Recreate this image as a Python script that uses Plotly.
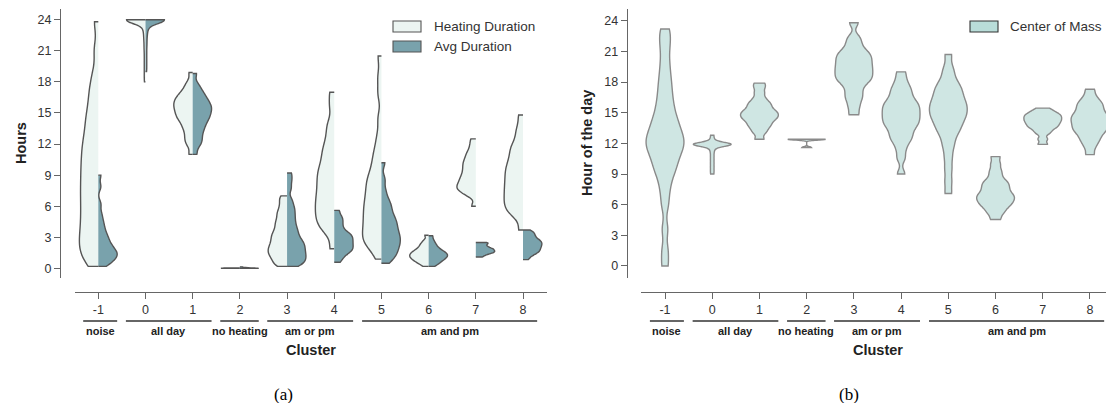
import plotly.graph_objects as go

# ---------------- data ----------------
clusters = ["-1", "0", "1", "2", "3", "4", "5", "6", "7", "8"]
group_labels = ["noise", "all day", "no heating", "am or pm", "am and pm"]

heating_duration = [
    [0.2, 0.85, 1.35, 1.85, 2.3, 2.75, 3.25, 3.75, 4.25, 4.8, 5.3, 5.85, 6.35, 6.9, 7.4, 7.9, 8.45,
     8.95, 9.5, 10.0, 10.55, 11.1, 11.65, 12.2, 12.8, 13.5, 14.2, 14.9, 15.7, 16.7, 17.6, 18.9, 21.1, 23.8],
    [18.0, 18.6, 19.2, 19.8, 20.4, 21.0, 21.5, 22.0, 22.4, 22.8, 23.1, 23.4, 23.6, 23.8, 23.9,
     24.0, 24.0, 24.0, 24.0, 24.0, 24.0, 24.0, 24.0, 24.0, 24.0, 24.0, 24.0, 24.0, 24.0, 24.0,
     24.0, 24.0, 24.0, 24.0, 24.0],
    [11.0, 11.9, 12.35, 12.75, 13.2, 13.57, 13.87, 14.18, 14.42, 14.62, 14.81, 15.01, 15.21, 15.39, 15.57,
     15.74, 15.92, 16.09, 16.26, 16.45, 16.66, 16.88, 17.16, 17.55, 18.0, 18.9],
    [0.0, 0.0, 0.0, 0.0, 0.0, 0.0, 0.0, 0.0, 0.05],
    [0.2, 0.45, 0.75, 1.0, 1.24, 1.44, 1.64, 1.84, 2.04, 2.25, 2.49, 2.73, 2.97, 3.22, 3.46, 3.76, 4.09,
     4.41, 4.74, 5.15, 5.5, 5.97, 6.5, 7.0],
    [1.9, 3.4, 3.9, 4.3, 4.65, 5.0, 5.35, 5.7, 6.04, 6.39, 6.73, 7.09, 7.47, 7.85, 8.23, 8.61, 9.0, 9.37,
     9.76, 10.23, 10.76, 11.28, 11.8, 12.5, 13.34, 14.17, 15.7, 17.0],
    [0.9, 1.9, 2.25, 2.55, 2.85, 3.15, 3.48, 3.82, 4.17, 4.51, 4.86, 5.2, 5.55, 5.9, 6.25, 6.59, 6.99,
     7.39, 7.8, 8.2, 8.6, 9.0, 9.54, 10.21, 10.88, 11.65, 12.8, 14.5, 16.85, 18.5, 20.5],
    [0.2, 0.45, 0.6, 0.73, 0.85, 0.95, 1.05, 1.14, 1.23, 1.32, 1.42, 1.51, 1.61, 1.74, 1.85, 2.03, 2.22,
     2.42, 2.7, 3.2],
    [6.0, 7.0, 7.3, 7.5, 7.68, 7.84, 8.0, 8.19, 8.4, 8.61, 8.81, 9.05, 9.31, 9.57, 9.84, 10.1, 10.36,
     10.66, 11.0, 11.36, 11.9, 12.5],
    [3.7, 5.0, 5.4, 5.72, 6.02, 6.32, 6.61, 6.91, 7.22, 7.52, 7.82, 8.13, 8.44, 8.76, 9.07, 9.39, 9.71,
     10.03, 10.39, 10.82, 11.24, 11.67, 12.09, 12.86, 13.63, 14.8],
]

avg_duration = [
    [0.2, 0.4, 0.6, 0.78, 0.93, 1.06, 1.18, 1.3, 1.42, 1.54, 1.67, 1.8, 1.95, 2.12, 2.3, 2.5, 2.73, 2.96,
     3.2, 3.5, 3.85, 4.25, 4.7, 5.3, 6.2, 7.9, 9.0],
    [19.0, 19.6, 20.2, 20.8, 21.4, 21.9, 22.4, 22.8, 23.1, 23.4, 23.6, 23.8, 23.9,
     24.0, 24.0, 24.0, 24.0, 24.0, 24.0, 24.0, 24.0, 24.0, 24.0, 24.0, 24.0, 24.0, 24.0, 24.0,
     24.0, 24.0, 24.0, 24.0],
    [11.0, 11.8, 12.2, 12.55, 12.95, 13.3, 13.6, 13.9, 14.15, 14.4, 14.6, 14.8, 15.0, 15.2, 15.4, 15.55,
     15.75, 15.95, 16.15, 16.4, 16.65, 16.95, 17.3, 17.8, 18.8],
    [0.0, 0.0, 0.0, 0.0, 0.0, 0.0, 0.0, 0.0, 0.15],
    [0.2, 0.38, 0.59, 0.77, 0.96, 1.14, 1.33, 1.51, 1.71, 1.91, 2.11, 2.3, 2.5, 2.7, 2.96, 3.27, 3.59, 3.9,
     4.3, 4.72, 5.16, 5.6, 6.05, 6.65, 7.7, 8.5, 9.2],
    [0.6, 1.0, 1.3, 1.54, 1.69, 1.85, 2.0, 2.16, 2.32, 2.48, 2.64, 2.8, 2.96, 3.12, 3.28, 3.44, 3.7, 4.04,
     4.39, 4.73, 5.07, 5.6],
    [0.5, 0.9, 1.19, 1.45, 1.7, 1.95, 2.19, 2.4, 2.62, 2.83, 3.04, 3.26, 3.48, 3.74, 4.0, 4.26, 4.52, 4.78,
     5.06, 5.46, 5.85, 6.25, 6.7, 7.5, 8.6, 10.2],
    [0.2, 0.42, 0.58, 0.72, 0.84, 0.95, 1.05, 1.14, 1.23, 1.32, 1.41, 1.5, 1.6, 1.72, 1.85, 2.02, 2.22,
     2.45, 2.75, 3.15],
    [1.1, 1.25, 1.37, 1.45, 1.52, 1.58, 1.64, 1.7, 1.76, 1.83, 1.89, 1.95, 2.04, 2.13, 2.24, 2.35, 2.46, 2.5],
    [0.85, 1.17, 1.41, 1.53, 1.65, 1.78, 1.9, 2.02, 2.14, 2.25, 2.36, 2.47, 2.58, 2.69, 2.8, 2.97, 3.14,
     3.32, 3.49, 3.7],
]

center_of_mass = [
    [0.0, 1.5, 3.6, 5.93, 7.23, 8.2, 8.99, 9.44, 9.86, 10.29, 10.71, 11.08, 11.35, 11.62, 11.89, 12.15,
     12.41, 12.67, 12.93, 13.26, 13.63, 14.0, 14.37, 14.8, 15.38, 15.95, 16.6, 17.35, 18.1, 19.0, 20.06,
     21.3, 22.3, 23.2],
    [9.0, 9.35, 9.7, 10.05, 10.4, 10.75, 11.1, 11.4, 11.6, 11.75, 11.8, 11.84, 11.87, 11.89, 11.9, 11.9,
     11.9, 11.91, 11.92, 11.94, 11.97, 12.0, 12.05, 12.2, 12.45, 12.8],
    [12.4, 13.0, 13.35, 13.63, 13.85, 14.05, 14.27, 14.42, 14.55, 14.69, 14.83, 14.96, 15.1, 15.24, 15.44,
     15.66, 15.87, 16.09, 16.45, 16.96, 17.48, 17.9],
    [11.6, 12.4, 12.4, 12.4, 12.4],
    [14.8, 15.6, 16.25, 16.7, 17.18, 17.66, 18.01, 18.23, 18.45, 18.67, 18.9, 19.12, 19.34, 19.56, 19.8,
     20.03, 20.26, 20.5, 20.73, 20.97, 21.33, 21.84, 22.4, 23.8],
    [9.0, 10.55, 11.46, 12.14, 12.49, 12.83, 13.18, 13.53, 13.77, 13.99, 14.2, 14.42, 14.64, 14.85, 15.07,
     15.28, 15.5, 15.72, 15.93, 16.15, 16.48, 16.86, 17.23, 17.6, 18.2, 19.0],
    [7.1, 8.3, 9.5, 10.6, 11.55, 12.18, 12.8, 13.2, 13.5, 13.81, 14.11, 14.38, 14.59, 14.81, 15.02, 15.24,
     15.45, 15.66, 15.87, 16.08, 16.32, 16.6, 16.88, 17.16, 17.45, 17.73, 18.14, 18.78, 19.45, 20.7],
    [4.55, 5.1, 5.42, 5.73, 5.94, 6.12, 6.3, 6.47, 6.63, 6.78, 6.94, 7.1, 7.32, 7.54, 7.76, 7.98, 8.21,
     8.46, 8.92, 9.39, 10.0, 10.7],
    [11.9, 12.42, 12.95, 13.22, 13.46, 13.61, 13.75, 13.89, 14.03, 14.15, 14.27, 14.39, 14.51, 14.63,
     14.75, 14.86, 15.02, 15.18, 15.45],
    [10.9, 11.63, 12.11, 12.42, 12.73, 13.02, 13.21, 13.39, 13.57, 13.76, 13.94, 14.12, 14.29, 14.46,
     14.62, 14.79, 14.98, 15.22, 15.47, 15.71, 15.95, 16.2, 16.65, 17.3],
]

y_ticks = [0, 3, 6, 9, 12, 15, 18, 21, 24]

# KDE bandwidths (smoothing settings)
heat_bw = [1.0, 0.35, 0.4, 0.05, 0.35, 0.7, 0.8, 0.2, 0.35, 0.6]
avg_bw = [0.4, 0.35, 0.4, 0.05, 0.4, 0.3, 0.5, 0.2, 0.1, 0.22]
com_bw = [0.8, 0.18, 0.25, 0.08, 0.4, 0.45, 0.55, 0.3, 0.2, 0.35]

# ---------------- layout constants ----------------
W, H = 1106, 403
def PX(p):
    return p / W
def PY(p):
    return 1 - p / H

# group bracket spans (x in cluster index units)
group_start = [-0.32, 0.585, 2.585, 3.58, 5.59]
group_end = [0.40, 2.40, 3.40, 5.40, 9.30]

HEAT_FILL = "#ecf5f2"
AVG_FILL = "#79a2ac"
COM_FILL = "#cfe6e3"
EDGE_L = "#555555"
EDGE_R = "#8a8a8a"
FONT = "Liberation Sans, Arial, sans-serif"

fig = go.Figure()

for i in range(len(clusters)):
    fig.add_trace(go.Violin(
        x0=i, y=heating_duration[i], side="negative", width=0.8,
        bandwidth=heat_bw[i], spanmode="hard", scalemode="width", points=False,
        fillcolor=HEAT_FILL, line=dict(color=EDGE_L, width=1.4), opacity=1,
        showlegend=False, hoverinfo="skip", xaxis="x", yaxis="y"))
    fig.add_trace(go.Violin(
        x0=i, y=avg_duration[i], side="positive", width=0.8,
        bandwidth=avg_bw[i], spanmode="hard", scalemode="width", points=False,
        fillcolor=AVG_FILL, line=dict(color=EDGE_L, width=1.4), opacity=1,
        showlegend=False, hoverinfo="skip", xaxis="x", yaxis="y"))
    fig.add_trace(go.Violin(
        x0=i, y=center_of_mass[i], side="both", width=0.8,
        bandwidth=com_bw[i], spanmode="hard", scalemode="width", points=False,
        fillcolor=COM_FILL, line=dict(color=EDGE_R, width=1.4), opacity=1,
        showlegend=False, hoverinfo="skip", xaxis="x2", yaxis="y2"))

tickfont = dict(family=FONT, size=12.5, color="#333333")
common_x = dict(tickmode="array", tickvals=list(range(len(clusters))), ticktext=clusters,
                showline=True, linecolor="#666666", linewidth=1.1, ticks="outside", ticklen=6,
                tickcolor="#666666", tickwidth=1.1, tickfont=tickfont, showgrid=False,
                zeroline=False, anchor="free", position=PY(292))
common_y = dict(tickmode="array", tickvals=y_ticks, showline=True, linecolor="#666666",
                linewidth=1.1, ticks="outside", ticklen=6, tickcolor="#666666", tickwidth=1.1,
                tickfont=tickfont, showgrid=False, zeroline=False, anchor="free",
                domain=[PY(278), PY(9)])

fig.update_layout(
    width=W, height=H, margin=dict(l=0, r=0, t=0, b=0),
    paper_bgcolor="white", plot_bgcolor="white",
    violinmode="overlay", violingap=0, violingroupgap=0, showlegend=False,
    xaxis=dict(domain=[PX(74.7), PX(546.6)], range=[-0.5, 9.5], **common_x),
    yaxis=dict(range=[-0.925, 25.03], position=PX(60), **common_y),
    xaxis2=dict(domain=[PX(641.4), 1.0], range=[-0.5, 9.339], **common_x),
    yaxis2=dict(range=[-1.175, 25.15], position=PX(626.7), **common_y),
    font=dict(family=FONT),
)

ann = []
shapes = []
lab_font = dict(size=14.5, color="#222222", family=FONT)
# axis titles
ann.append(dict(text="<b>Hours</b>", x=PX(21), y=PY(143), xref="paper", yref="paper",
                xanchor="center", yanchor="middle", textangle=-90, showarrow=False, font=lab_font))
ann.append(dict(text="<b>Hour of the day</b>", x=PX(587), y=PY(143), xref="paper", yref="paper",
                xanchor="center", yanchor="middle", textangle=-90, showarrow=False, font=lab_font))
for xr in ["x", "x2"]:
    ann.append(dict(text="<b>Cluster</b>", x=4.5, y=PY(350), xref=xr, yref="paper",
                    xanchor="center", yanchor="middle", showarrow=False, font=lab_font))
    for lab, s, e in zip(group_labels, group_start, group_end):
        ann.append(dict(text="<b>" + lab + "</b>", x=(s + e) / 2, y=PY(330.5), xref=xr, yref="paper",
                        xanchor="center", yanchor="middle", showarrow=False,
                        font=dict(size=11, color="#222222", family=FONT)))
        shapes.append(dict(type="line", xref=xr, yref="paper", x0=s, x1=e, y0=PY(321), y1=PY(321),
                           line=dict(color="#333333", width=1.6)))
# panel captions
cap_font = dict(size=17, color="#000000", family="Liberation Serif, Times New Roman, serif")
ann.append(dict(text="(a)", x=PX(283), y=PY(394), xref="paper", yref="paper", showarrow=False,
                xanchor="center", yanchor="middle", font=cap_font))
ann.append(dict(text="(b)", x=PX(849), y=PY(394), xref="paper", yref="paper", showarrow=False,
                xanchor="center", yanchor="middle", font=cap_font))

# legends
leg = [("Heating Duration", HEAT_FILL, EDGE_L, 393, 21, 432),
       ("Avg Duration", AVG_FILL, EDGE_L, 393, 41, 432),
       ("Center of Mass", "#b9ddd9", "#333333", 970, 21, 1008)]
for name, fc, lc, bx, by, tx in leg:
    shapes.append(dict(type="rect", xref="paper", yref="paper", x0=PX(bx), x1=PX(bx + 28),
                       y0=PY(by + 11), y1=PY(by), fillcolor=fc, line=dict(color=lc, width=1.1)))
    ann.append(dict(text=name, x=PX(tx), y=PY(by + 5.5), xref="paper", yref="paper",
                    xanchor="left", yanchor="middle", showarrow=False,
                    font=dict(size=13.5, color="#333333", family=FONT)))

fig.update_layout(annotations=ann, shapes=shapes)
fig.write_html("out.html", config={"displayModeBar": False},
               post_script="document.body.style.margin='0px';")
